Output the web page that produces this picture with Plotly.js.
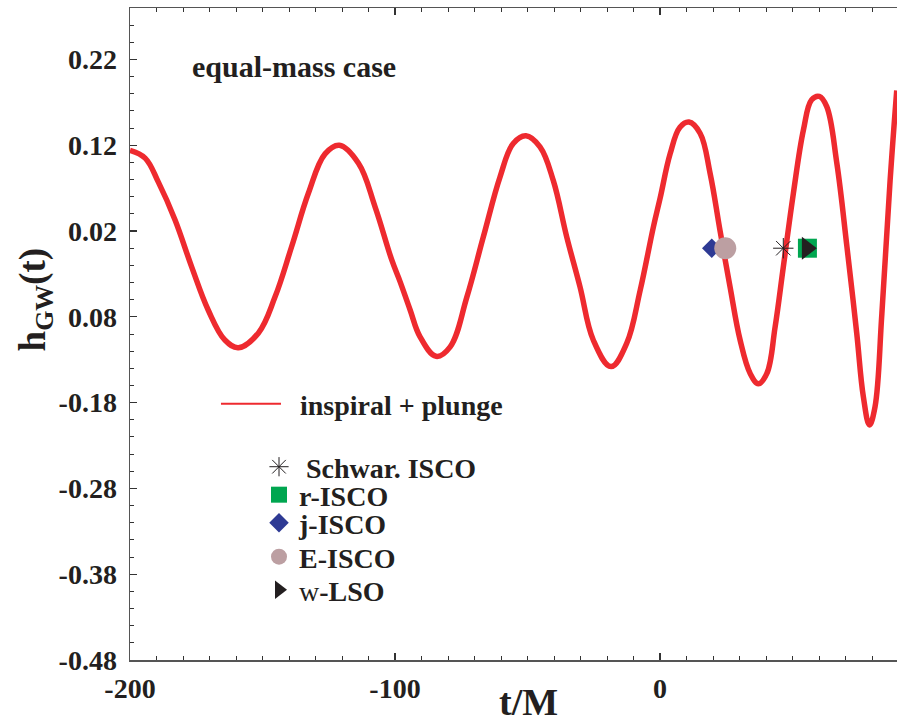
<!DOCTYPE html>
<html>
<head>
<meta charset="utf-8">
<script src="https://cdn.plot.ly/plotly-3.0.1.min.js"></script>
<style>html,body{margin:0;padding:0;background:#fff;}#chart{width:897px;height:723px;}</style>
</head>
<body>
<div id="chart"></div>
<script>
// waveform h_GW(t)
const tVals = [-200, -194.3, -189.3, -183.0, -176.7, -170.5, -164.2, -159.1, -151.6, -145.3,
  -139.0, -132.7, -126.4, -121.0, -113.8, -107.5, -101.2, -98.1, -94.3, -90.6,
  -84.5, -79.2, -72.9, -66.7, -60.4, -55.4, -50.6, -45.3, -40.3, -35.2,
  -30.2, -25.2, -18.5, -12.6, -7.5, -2.5, 0.0, 3.8, 7.5, 10.9,
  15.1, 18.9, 22.6, 26.4, 30.2, 34.0, 37.1, 40.3, 43.4, 46.5,
  50.3, 54.1, 57.2, 60.1, 62.9, 66.7, 70.5, 74.2, 76.7, 79.0,
  81.1, 83.7, 86.8, 89.3];
const hVals = [0.114, 0.105, 0.077, 0.033, -0.022, -0.072, -0.107, -0.116, -0.099, -0.057,
  0.002, 0.064, 0.110, 0.120, 0.099, 0.048, -0.014, -0.039, -0.072, -0.103,
  -0.126, -0.115, -0.057, 0.013, 0.083, 0.122, 0.131, 0.118, 0.079, 0.013,
  -0.045, -0.107, -0.138, -0.111, -0.049, 0.025, 0.058, 0.110, 0.141, 0.147,
  0.134, 0.087, 0.021, -0.045, -0.107, -0.146, -0.158, -0.146, -0.092, -0.022,
  0.064, 0.138, 0.173, 0.177, 0.165, 0.099, 0.002, -0.099, -0.173, -0.206,
  -0.185, -0.076, 0.079, 0.184];
const lineName = "inspiral + plunge";

// special orbit markers
const markerNames = ["Schwar. ISCO", "r-ISCO", "j-ISCO", "E-ISCO", "w-LSO"];
const markerT = [46.5, 55.6, 19.5, 24.6, 55.4];
const markerH = [0.0, 0.0, 0.0, 0.0, 0.0];

// axis ticks
const xTickVals = [-200, -100, 0];
const xTickText = ["-200", "-100", "0"];
const yTickVals = [-0.48, -0.38, -0.28, -0.18, -0.08, 0.02, 0.12, 0.22];
const yTickText = ["-0.48", "-0.38", "-0.28", "-0.18", "0.08", "0.02", "0.12", "0.22"];

const serif = "Liberation Serif, Times New Roman, serif";
const ink = "#231f20";

const markerStyles = [
  {symbol: "asterisk-open", size: 17, color: ink, line: {color: ink, width: 1}},
  {symbol: "square", size: 19, color: "#00a650", line: {width: 0}},
  {symbol: "diamond", size: 15, color: "#2e3a94", line: {width: 0}},
  {symbol: "circle", size: 22, color: "#bc9fa2", line: {width: 0}},
  {symbol: "triangle-right", size: 20, color: ink, line: {width: 0}}
];
const markerLabels = ["<b>\u00a0" + markerNames[0] + "</b>", "<b>" + markerNames[1] + "</b>",
  "<b>" + markerNames[2] + "</b>", "<b>" + markerNames[3] + "</b>", "w<b>-LSO</b>"];
const legendY = [0.296, 0.2531, 0.2101, 0.158, 0.1074];

const traces = [
  {x: tVals, y: hVals, type: "scatter", mode: "lines", name: lineName,
   line: {color: "#ee2a2f", width: 5.5, shape: "spline", smoothing: 1.1},
   showlegend: false, hoverinfo: "x+y"},
  {x: [null], y: [null], type: "scatter", mode: "lines", name: "<b>\u00a0\u00a0" + lineName + "</b>",
   line: {color: "#ee2a2f", width: 2}, legend: "legend", showlegend: true}
];
for (let i = 0; i < markerNames.length; i++) {
  traces.push({x: [markerT[i]], y: [markerH[i]], type: "scatter", mode: "markers",
    name: markerLabels[i], marker: markerStyles[i], legend: "legend" + (i + 2), showlegend: true});
}

const layout = {
  width: 897, height: 723,
  margin: {l: 130, r: 0, t: 8, b: 63},
  paper_bgcolor: "#ffffff", plot_bgcolor: "#ffffff",
  font: {family: serif, color: ink},
  xaxis: {
    range: [-200, 89.4], showgrid: false, zeroline: false,
    showline: true, linecolor: "#555", linewidth: 1.5, mirror: "ticks",
    ticks: "inside", ticklen: 7, tickwidth: 1.2, tickcolor: "#333",
    tickmode: "array", tickvals: xTickVals, ticktext: xTickText,
    tickfont: {family: serif, size: 28, weight: "bold", color: ink},
    ticklabelstandoff: 3,
    minor: {dtick: 10, tick0: -200, ticks: "inside", ticklen: 4, tickwidth: 1, tickcolor: "#333", showgrid: false}
  },
  yaxis: {
    range: [-0.48, 0.28], showgrid: false, zeroline: false,
    showline: true, linecolor: "#555", linewidth: 1.5,
    ticks: "inside", ticklen: 7, tickwidth: 1.2, tickcolor: "#333",
    tickmode: "array", tickvals: yTickVals, ticktext: yTickText,
    tickfont: {family: serif, size: 28, weight: "bold", color: ink},
    ticklabelstandoff: 6,
    minor: {dtick: 0.02, tick0: -0.48, ticks: "inside", ticklen: 4, tickwidth: 1, tickcolor: "#333", showgrid: false}
  },
  legend: {x: 0.1121, xanchor: "left", y: 0.3926, yanchor: "middle", bgcolor: "rgba(0,0,0,0)",
    font: {family: serif, size: 28, color: ink}, itemwidth: 60},
  annotations: [
    {text: "<b>equal-mass case</b>", xref: "paper", yref: "paper", x: 0.0782, y: 0.91, xanchor: "left", yanchor: "middle",
     showarrow: false, font: {family: serif, size: 30, color: ink}},
    {text: "<b>t/M</b>", xref: "paper", yref: "paper", x: 0.52, y: -0.064, xanchor: "center", yanchor: "middle",
     showarrow: false, font: {family: serif, size: 38, color: ink}},
    {text: "<b>h<sub>GW</sub>(t)</b>", xref: "paper", yref: "paper", x: -0.122, y: 0.5537, xanchor: "center", yanchor: "middle",
     textangle: -90, showarrow: false, font: {family: serif, size: 37, color: ink}}
  ],
  showlegend: true
};
for (let i = 0; i < markerNames.length; i++) {
  layout["legend" + (i + 2)] = {x: 0.1682, xanchor: "left", y: legendY[i], yanchor: "middle",
    bgcolor: "rgba(0,0,0,0)", font: {family: serif, size: 28, color: ink}};
}

Plotly.newPlot("chart", traces, layout, {displayModeBar: false, staticPlot: true});
</script>
</body>
</html>
